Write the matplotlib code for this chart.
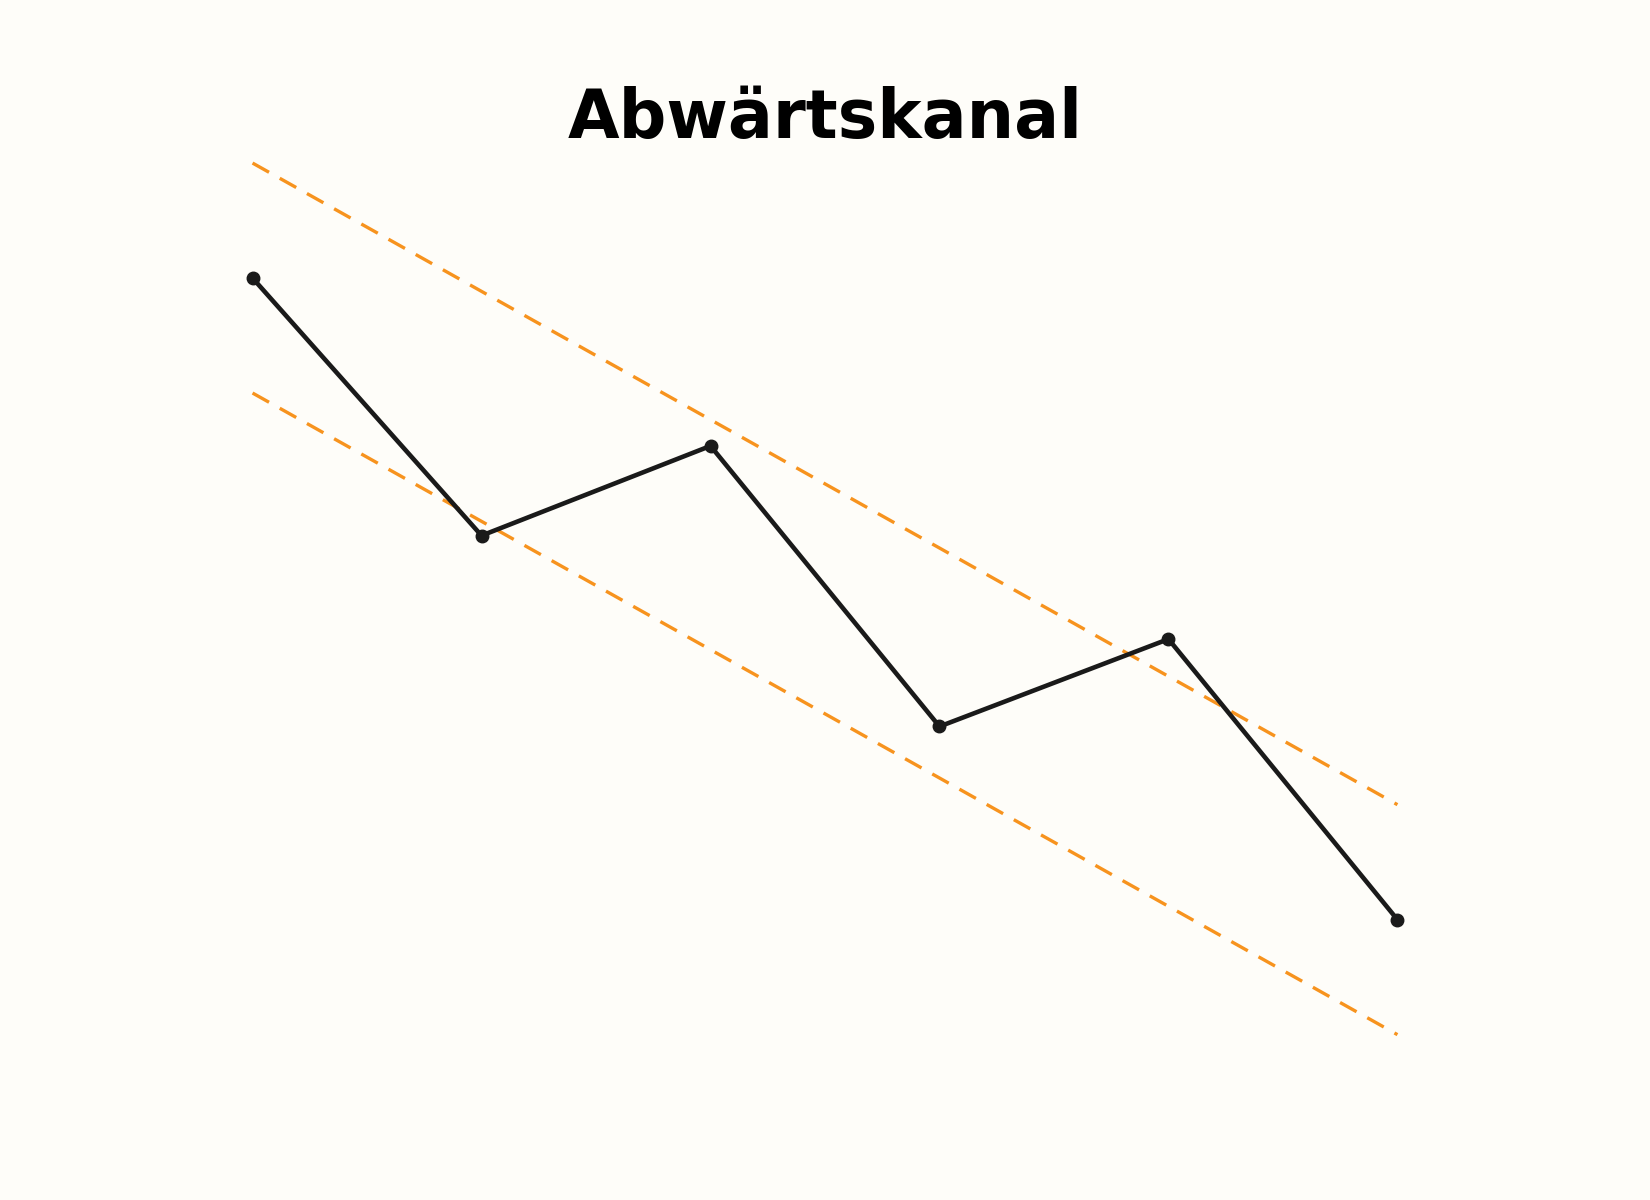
import numpy as np
import matplotlib.pyplot as plt

# price points of the downward channel
x = [0, 1, 2, 3, 4, 5]
price = [100, 88.8, 92.7, 80.5, 84.3, 72.1]
channel_offset = 5.0

# channel lines run through first and last point, shifted up and down
slope = (price[-1] - price[0]) / (x[-1] - x[0])
mid = [price[0] + slope * (xi - x[0]) for xi in x]
upper = [m + channel_offset for m in mid]
lower = [m - channel_offset for m in mid]

bg = '#fefdf9'
fig = plt.figure(figsize=(16.5, 12), dpi=100, facecolor=bg)
ax = fig.add_axes([0, 0, 1, 1])
ax.set_facecolor(bg)

ax.plot(x, upper, color='#f7931e', lw=2.4, dashes=(5.66, 3.69))
ax.plot(x, lower, color='#f7931e', lw=2.4, dashes=(5.66, 3.69))
ax.plot(x, price, color='#1a1a1a', lw=3.3, marker='o', markersize=9)

ax.set_xlim(-1.103, 6.103)
ax.set_ylim(59.91, 112.09)
ax.axis('off')

fig.text(0.5, 1 - 138 / 1200, 'Abwärtskanal', ha='center', va='baseline',
         fontsize=48, fontweight='bold', family='DejaVu Sans')

fig.savefig('out.png', dpi=100, facecolor=bg)
